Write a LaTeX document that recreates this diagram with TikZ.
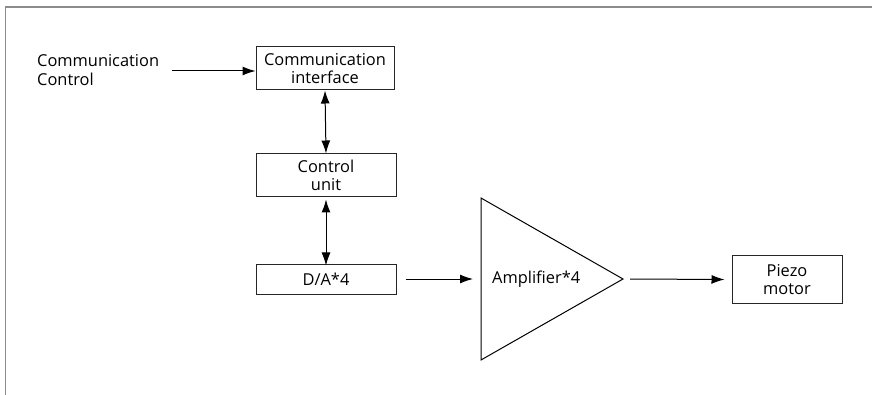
\documentclass[tikz,border=0pt]{standalone}
\usepackage{fontspec}
\setmainfont{Open Sans}
\usetikzlibrary{arrows.meta}
\begin{document}
\begin{tikzpicture}[x=1pt,y=-1pt,
  font=\fontsize{16.4}{18.5}\selectfont,
  blk/.style={draw=black!85,line width=1pt,align=center,inner sep=0pt},
  conn/.style={line width=1pt,-{Latex[length=13pt,width=9pt]}},
  bconn/.style={line width=1pt,{Latex[length=13pt,width=9pt]}-{Latex[length=13pt,width=9pt]}},
  frameline/.style={draw=black!45,line width=1.5pt}]
\useasboundingbox (0,0) rectangle (872,395);
% outer frame (top and left edges)
\draw[frameline] (5.5,395) -- (5.5,7) -- (872,7);

% blocks
\node[blk,minimum width=138pt,minimum height=43pt] (ci) at (325,68.5) {Communication\\interface};
\node[blk,minimum width=140pt,minimum height=43pt] (cu) at (326,175.5) {Control\\unit};
\node[blk,minimum width=140pt,minimum height=30pt] (da) at (326,279) {D/A*4};
\node[blk,minimum width=110pt,minimum height=47pt] (pm) at (787,279.5) {Piezo\\motor};

% amplifier triangle
\coordinate (ampin) at (481,279);
\coordinate (ampout) at (623,279);
\draw[line width=1pt] (481,198) -- (ampout) -- (481,360) -- cycle;
\node[anchor=west,inner sep=0pt] (amp) at (492,279) {Amplifier*4};

% input label
\node[align=left,anchor=west,inner sep=0pt] (cc) at (37,70) {Communication\\Control};

% connectors
\coordinate (ccend) at (172,71);
\draw[conn] (ccend) -- (ci.west |- ccend);
\draw[bconn] (ci.south) -- (cu.north);
\draw[bconn] (cu.south) ++(0,2) -- ([yshift=-2pt]da.north);
\draw[conn] ([xshift=9pt]da.east) -- ([xshift=-8pt]ampin);
\draw[conn] ([xshift=7pt]ampout) -- ([xshift=-7pt]pm.west);
\end{tikzpicture}
\end{document}
